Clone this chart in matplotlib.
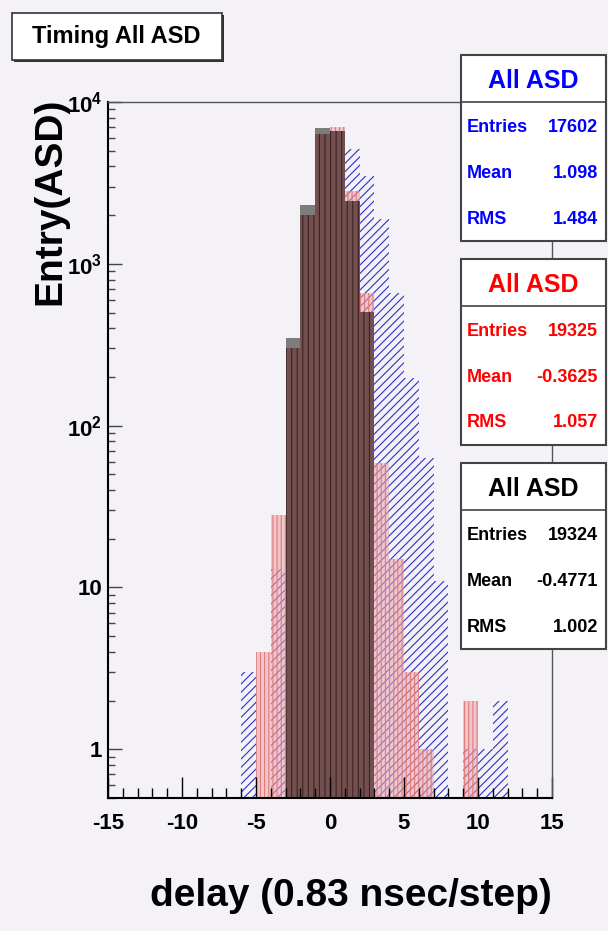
import numpy as np
import matplotlib.pyplot as plt
from matplotlib.patches import Rectangle
from matplotlib.lines import Line2D
from matplotlib.ticker import FixedLocator, FixedFormatter, MultipleLocator, LogLocator, NullFormatter

plt.rcParams['font.family'] = 'Liberation Sans'
plt.rcParams['font.weight'] = 'bold'
plt.rcParams['mathtext.fontset'] = 'custom'
plt.rcParams['mathtext.rm'] = 'Liberation Sans:bold'
plt.rcParams['mathtext.bf'] = 'Liberation Sans:bold'
plt.rcParams['axes.unicode_minus'] = False
plt.rcParams['hatch.linewidth'] = 0.8

# histogram contents, one bin per integer step [k, k+1)
bin_left = list(range(-6, 12))
blue = [3, 0, 13, 26, 220, 2050, 3800, 5145, 3508, 1905, 657, 197, 63, 11, 0, 1, 1, 2]
red = [0, 4, 28, 300, 2010, 6380, 7030, 2836, 657, 59, 15, 3, 1, 0, 0, 2, 0, 0]
black = [0, 0, 0, 347, 2323, 6930, 6600, 2460, 504, 0, 0, 0, 0, 0, 0, 0, 0, 0]

stat_colors = ['blue', 'red', 'black']
stat_entries = ['17602', '19325', '19324']
stat_mean = ['1.098', '-0.3625', '-0.4771']
stat_rms = ['1.484', '1.057', '1.002']

yticks = [1, 10, 100, 1000, 10000]
ylabels = ['1', '10', r'$\mathbf{10^{2}}$', r'$\mathbf{10^{3}}$', r'$\mathbf{10^{4}}$']

W, H = 608, 931
bg = '#f4f2f6'
fig = plt.figure(figsize=(W / 100, H / 100), dpi=100, facecolor=bg)


def fx(px):
    return px / W


def fy(py):
    return 1 - py / H


ax = fig.add_axes([fx(108), fy(798), fx(552) - fx(108), fy(102) - fy(798)])
ax.set_facecolor(bg)

edges = np.append(bin_left, bin_left[-1] + 1)
base = 0.01
ax.stairs(np.maximum(blue, base), edges, baseline=base, fill=True,
          facecolor='none', edgecolor='#3030c8', hatch='////', lw=0)
ax.stairs(np.maximum(red, base), edges, baseline=base, fill=True,
          facecolor=(0.92, 0.64, 0.66, 0.55), edgecolor='#e07a7a', hatch='||||', lw=0)
ax.stairs(np.maximum(black, base), edges, baseline=base, fill=True,
          facecolor='#7d7d7d', lw=0)
overlap = np.minimum(red, black)
ax.stairs(np.maximum(overlap, base), edges, baseline=base, fill=True,
          facecolor='#735050', edgecolor='#3e2222', hatch='|||', lw=0)

ax.set_xlim(-15, 15)
ax.set_yscale('log')
ax.set_ylim(0.5, 1.0e4)

ax.xaxis.set_major_locator(MultipleLocator(5))
ax.xaxis.set_minor_locator(MultipleLocator(1))
ax.tick_params(axis='x', which='major', direction='in', length=15, width=1,
               labelsize=16, pad=11, top=False)
ax.tick_params(axis='x', which='minor', direction='in', length=7.5, width=1, top=False)

ax.yaxis.set_major_locator(FixedLocator(yticks))
ax.yaxis.set_major_formatter(FixedFormatter(ylabels))
ax.yaxis.set_minor_locator(LogLocator(base=10, subs=np.arange(2, 10)))
ax.yaxis.set_minor_formatter(NullFormatter())
ax.tick_params(axis='y', which='major', direction='in', length=10, width=1,
               labelsize=16, pad=4, right=False, color='#444444')
ax.tick_params(axis='y', which='minor', direction='in', length=5, width=1,
               right=False, color='#444444')

for s in ['left', 'bottom']:
    ax.spines[s].set_linewidth(1.5)
for s in ['top', 'right']:
    ax.spines[s].set_linewidth(1.0)
    ax.spines[s].set_color('#555555')

fig.text(fx(552), fy(896), 'delay (0.83 nsec/step)', ha='right', va='center', fontsize=28)
fig.text(fx(50), fy(98), 'Entry(ASD)', rotation=90, ha='center', va='top', fontsize=28)

# title box with shadow
fig.add_artist(Rectangle((fx(14), fy(62)), fx(222) - fx(12), (62 - 15) / H,
                         transform=fig.transFigure, facecolor='#333333', lw=0))
fig.add_artist(Rectangle((fx(12), fy(60)), fx(222) - fx(12), (60 - 13) / H,
                         transform=fig.transFigure, facecolor='white',
                         edgecolor='#333333', lw=1.2))
fig.text(fx(116), fy(37), 'Timing All ASD', ha='center', va='center', fontsize=17)

# stats boxes
box_tops = [55, 259, 463]
box_h = 186
x0, x1 = 461, 606
for top, c, ent, mean, rms in zip(box_tops, stat_colors, stat_entries, stat_mean, stat_rms):
    fig.add_artist(Rectangle((fx(x0), fy(top + box_h)), fx(x1) - fx(x0), box_h / H,
                             transform=fig.transFigure, facecolor='white',
                             edgecolor='#444444', lw=1.5))
    fig.add_artist(Line2D([fx(x0), fx(x1)], [fy(top + 47)] * 2,
                          transform=fig.transFigure, color='#444444', lw=1.2))
    fig.text(fx(533), fy(top + 26), 'All ASD', ha='center', va='center', fontsize=18, color=c)
    for dy, lab, val in zip([73, 118, 164], ['Entries', 'Mean', 'RMS'], [ent, mean, rms]):
        fig.text(fx(467), fy(top + dy), lab, ha='left', va='center', fontsize=13, color=c)
        fig.text(fx(598), fy(top + dy), val, ha='right', va='center', fontsize=13, color=c)

fig.savefig('out.png', dpi=100, facecolor=bg)
